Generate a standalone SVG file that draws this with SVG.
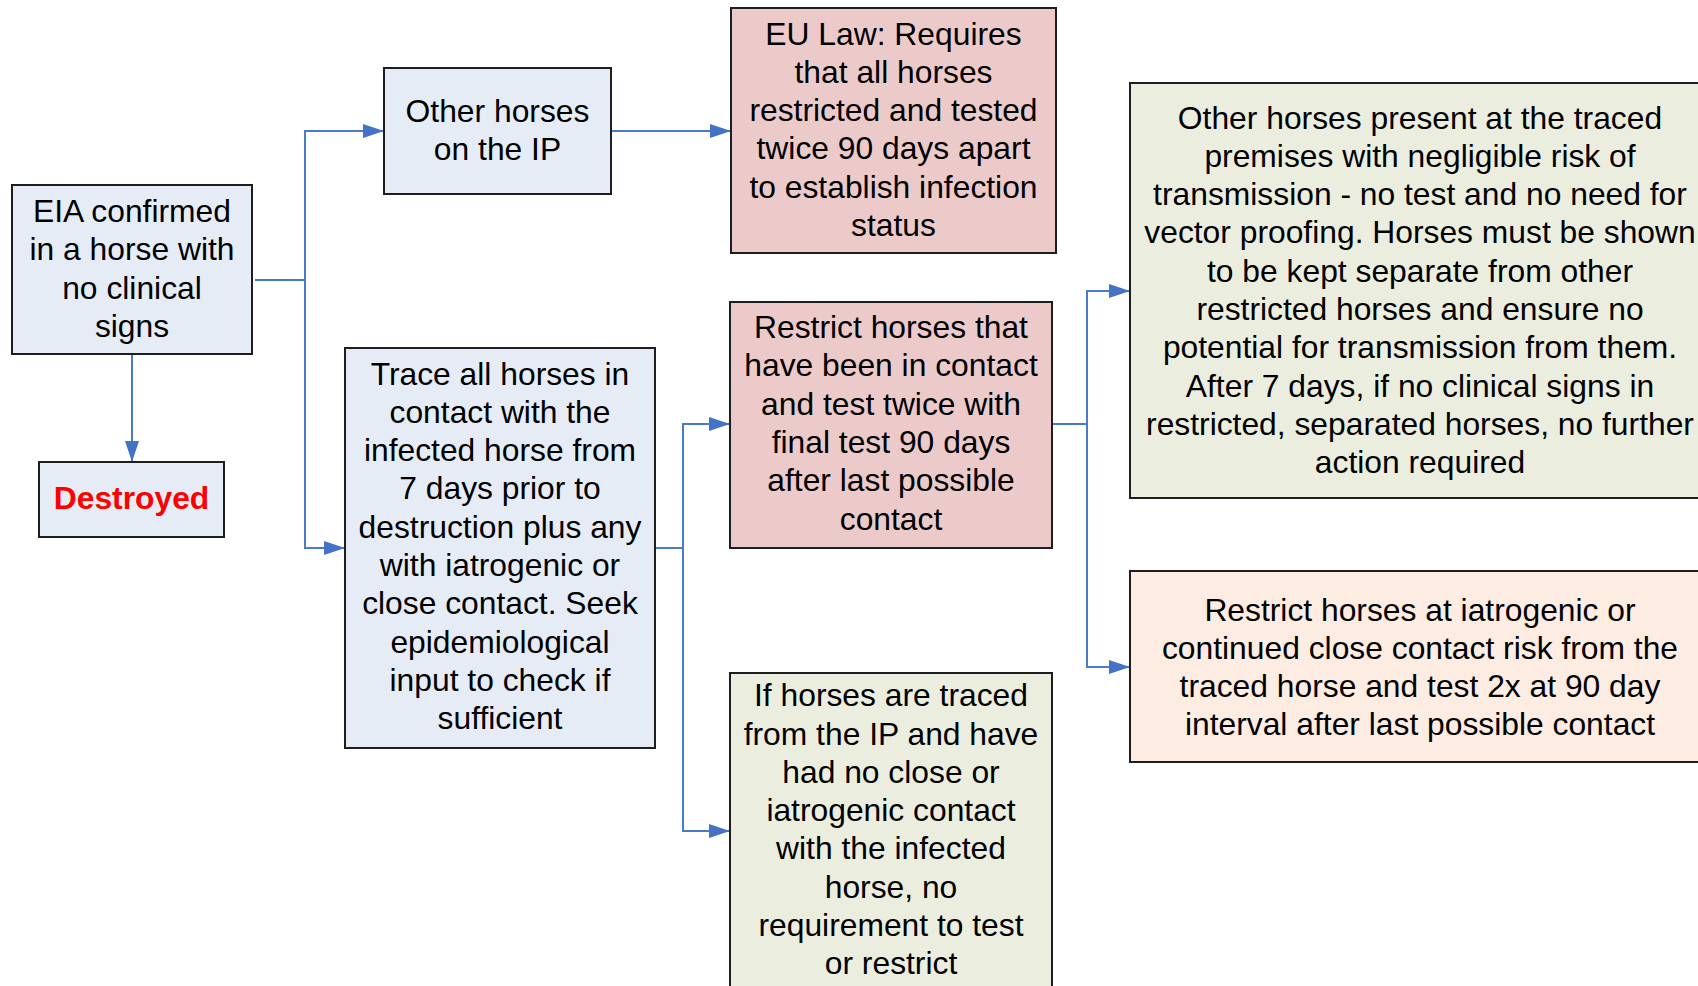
<svg xmlns="http://www.w3.org/2000/svg" width="1698" height="986" viewBox="0 0 1698 986">
<defs>
<style>
.box{stroke:#1e1e1e;stroke-width:2}
.blue{fill:#E6ECF6}
.pink{fill:#ECCACA}
.green{fill:#EBEEDF}
.peach{fill:#FDECE2}
.t{font-family:"Liberation Sans",Arial,sans-serif;font-size:31.8px;fill:#000;text-anchor:middle}
.red{font-weight:bold;fill:#FF0000}
.c{fill:none;stroke:#4A7BC8;stroke-width:2}
</style>
<marker id="ah" viewBox="0 0 21 14" refX="21" refY="7" markerWidth="21" markerHeight="14" markerUnits="userSpaceOnUse" orient="auto">
<path d="M0,0 L21,7 L0,14 Z" fill="#4472C4"/>
</marker>
</defs>
<rect width="1698" height="986" fill="#fff"/>
<g id="connectors">
<path class="c" d="M132,354 V462" marker-end="url(#ah)"/>
<path class="c" d="M255,280 H305 V131 H384" marker-end="url(#ah)"/>
<path class="c" d="M305,280 V548 H345" marker-end="url(#ah)"/>
<path class="c" d="M611,131 H731" marker-end="url(#ah)"/>
<path class="c" d="M655,548 H683 V424 H730" marker-end="url(#ah)"/>
<path class="c" d="M683,548 V831 H730" marker-end="url(#ah)"/>
<path class="c" d="M1052,424 H1087 V291 H1130" marker-end="url(#ah)"/>
<path class="c" d="M1087,424 V667 H1130" marker-end="url(#ah)"/>
</g>
<g id="eia">
<rect class="box blue" x="12" y="185" width="240" height="169"/>
<text class="t" x="132" y="222">EIA confirmed</text>
<text class="t" x="132" y="260.3">in a horse with</text>
<text class="t" x="132" y="298.6">no clinical</text>
<text class="t" x="132" y="336.9">signs</text>
</g>
<g id="destroyed">
<rect class="box blue" x="39" y="462" width="185" height="75"/>
<text class="t red" x="131.5" y="508.5">Destroyed</text>
</g>
<g id="other-ip">
<rect class="box blue" x="384" y="68" width="227" height="126"/>
<text class="t" x="497.5" y="121.5">Other horses</text>
<text class="t" x="497.5" y="159.8">on the IP</text>
</g>
<g id="eu-law">
<rect class="box pink" x="731" y="8" width="325" height="245"/>
<text class="t" x="893.5" y="44.5">EU Law: Requires</text>
<text class="t" x="893.5" y="82.8">that all horses</text>
<text class="t" x="893.5" y="121.1">restricted and tested</text>
<text class="t" x="893.5" y="159.4">twice 90 days apart</text>
<text class="t" x="893.5" y="197.7">to establish infection</text>
<text class="t" x="893.5" y="236">status</text>
</g>
<g id="trace">
<rect class="box blue" x="345" y="348" width="310" height="400"/>
<text class="t" x="500" y="384.5">Trace all horses in</text>
<text class="t" x="500" y="422.8">contact with the</text>
<text class="t" x="500" y="461.1">infected horse from</text>
<text class="t" x="500" y="499.4">7 days prior to</text>
<text class="t" x="500" y="537.7">destruction plus any</text>
<text class="t" x="500" y="576">with iatrogenic or</text>
<text class="t" x="500" y="614.3">close contact. Seek</text>
<text class="t" x="500" y="652.6">epidemiological</text>
<text class="t" x="500" y="690.9">input to check if</text>
<text class="t" x="500" y="729.2">sufficient</text>
</g>
<g id="restrict-contact">
<rect class="box pink" x="730" y="302" width="322" height="246"/>
<text class="t" x="891" y="338">Restrict horses that</text>
<text class="t" x="891" y="376.3">have been in contact</text>
<text class="t" x="891" y="414.6">and test twice with</text>
<text class="t" x="891" y="452.9">final test 90 days</text>
<text class="t" x="891" y="491.2">after last possible</text>
<text class="t" x="891" y="529.5">contact</text>
</g>
<g id="no-contact">
<rect class="box green" x="730" y="673" width="322" height="340"/>
<text class="t" x="891" y="706.2">If horses are traced</text>
<text class="t" x="891" y="744.5">from the IP and have</text>
<text class="t" x="891" y="782.8">had no close or</text>
<text class="t" x="891" y="821.1">iatrogenic contact</text>
<text class="t" x="891" y="859.4">with the infected</text>
<text class="t" x="891" y="897.7">horse, no</text>
<text class="t" x="891" y="936">requirement to test</text>
<text class="t" x="891" y="974.3">or restrict</text>
</g>
<g id="negligible">
<rect class="box green" x="1130" y="83" width="590" height="415"/>
<text class="t" x="1420" y="128.5">Other horses present at the traced</text>
<text class="t" x="1420" y="166.8">premises with negligible risk of</text>
<text class="t" x="1420" y="205.1">transmission - no test and no need for</text>
<text class="t" x="1420" y="243.4">vector proofing. Horses must be shown</text>
<text class="t" x="1420" y="281.7">to be kept separate from other</text>
<text class="t" x="1420" y="320">restricted horses and ensure no</text>
<text class="t" x="1420" y="358.3">potential for transmission from them.</text>
<text class="t" x="1420" y="396.6">After 7 days, if no clinical signs in</text>
<text class="t" x="1420" y="434.9">restricted, separated horses, no further</text>
<text class="t" x="1420" y="473.2">action required</text>
</g>
<g id="iatrogenic">
<rect class="box peach" x="1130" y="571" width="590" height="191"/>
<text class="t" x="1420" y="620.5">Restrict horses at iatrogenic or</text>
<text class="t" x="1420" y="658.8">continued close contact risk from the</text>
<text class="t" x="1420" y="697.1">traced horse and test 2x at 90 day</text>
<text class="t" x="1420" y="735.4">interval after last possible contact</text>
</g>
</svg>
